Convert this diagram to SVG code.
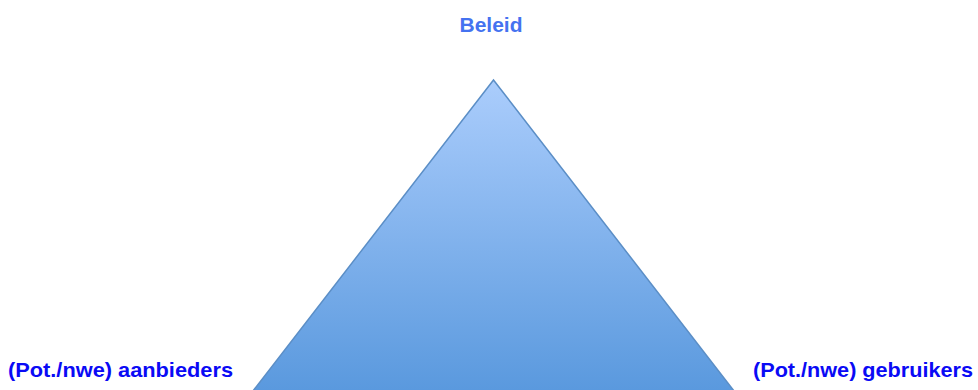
<svg xmlns="http://www.w3.org/2000/svg" width="978" height="390" viewBox="0 0 978 390">
  <style>
    .lbl { font-family: "Liberation Sans", Arial, sans-serif; font-weight: bold; font-size: 21px; }
    .top { fill: #4472f0; }
    .side { fill: #0a0af5; }
  </style>
  <defs>
    <linearGradient id="tri" gradientUnits="userSpaceOnUse" x1="0" y1="80" x2="0" y2="390">
      <stop offset="0" stop-color="#abcdfc"/>
      <stop offset="1" stop-color="#5a99de"/>
    </linearGradient>
  </defs>
  <rect width="978" height="390" fill="#ffffff"/>
  <g id="triangle">
    <polygon points="493.5,80 246,400 741,400" fill="url(#tri)" stroke="#5b8ec6" stroke-width="1.5"/>
  </g>
  <g id="connectors"/>
  <g id="beleid">
    <text class="lbl top" x="491" y="32" text-anchor="middle" textLength="63" lengthAdjust="spacingAndGlyphs">Beleid</text>
  </g>
  <g id="aanbieders">
    <text class="lbl side" x="8" y="377" textLength="225" lengthAdjust="spacingAndGlyphs">(Pot./nwe) aanbieders</text>
  </g>
  <g id="gebruikers">
    <text class="lbl side" x="753" y="377" textLength="220" lengthAdjust="spacingAndGlyphs">(Pot./nwe) gebruikers</text>
  </g>
</svg>
